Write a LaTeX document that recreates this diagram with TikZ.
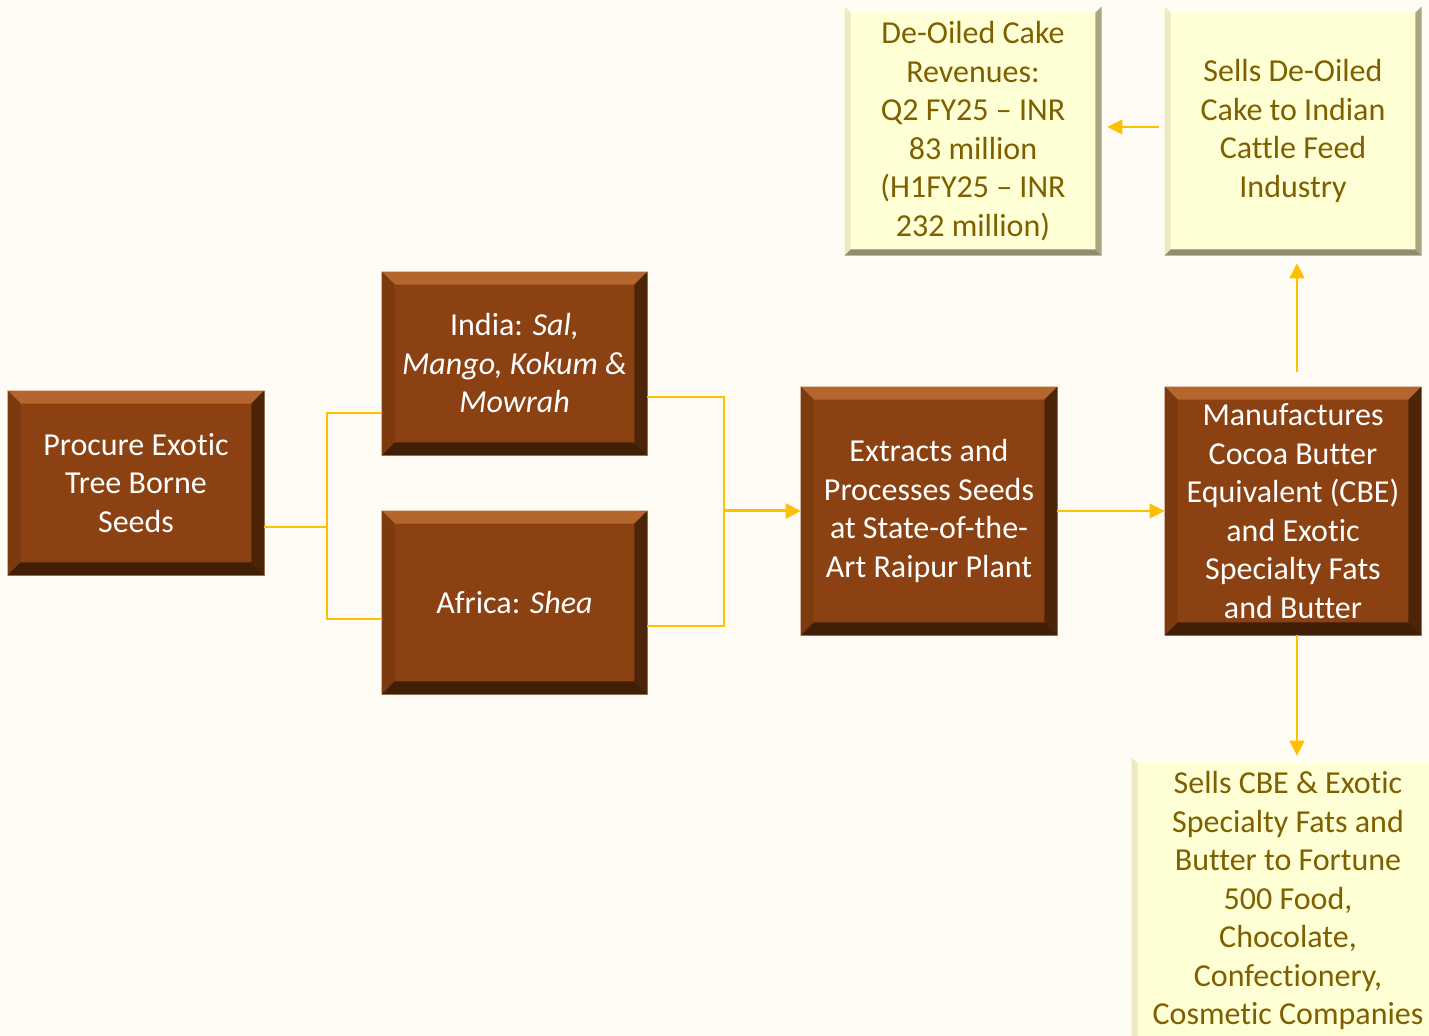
\documentclass[tikz,border=0pt]{standalone}
\usepackage{fontspec}
\setmainfont{Carlito}[Ligatures=NoCommon]
\usetikzlibrary{arrows.meta,calc}

\definecolor{paper}{HTML}{FFFBF5}
\definecolor{cocoa}{HTML}{8B4112}
\definecolor{cocoatop}{HTML}{B5662F}
\definecolor{cocoaleft}{HTML}{7E3A0F}
\definecolor{cocoadark}{HTML}{4C2408}
\definecolor{cream}{HTML}{FFFFD5}
\definecolor{creamtop}{HTML}{FFFFF0}
\definecolor{creamleft}{HTML}{EEE9C2}
\definecolor{creamdark}{HTML}{ABA581}
\definecolor{olive}{HTML}{7F6000}
\definecolor{gold}{HTML}{FFC000}

% bevel: node, width, top, left, right/bottom
\newcommand\bevel[5]{
    \fill[#3] (#1.north west) -- (#1.north east) -- ($(#1.north east)+(-#2,#2)$) -- ($(#1.north west)+(#2,#2)$) -- cycle;
    \fill[#4] (#1.north west) -- (#1.south west) -- ($(#1.south west)+(#2,-#2)$) -- ($(#1.north west)+(#2,#2)$) -- cycle;
    \fill[#5] (#1.north east) -- (#1.south east) -- ($(#1.south east)+(-#2,-#2)$) -- ($(#1.north east)+(-#2,#2)$) -- cycle;
    \fill[#5!85!black] (#1.south west) -- (#1.south east) -- ($(#1.south east)+(-#2,-#2)$) -- ($(#1.south west)+(#2,-#2)$) -- cycle;
}

\begin{document}
\begin{tikzpicture}[x=0.5pt,y=-0.5pt,
    box/.style={inner sep=0pt, align=center, font=\fontsize{16}{19.25}\selectfont},
    brownbox/.style={box, fill=cocoa, text=white, draw=cocoa!55!white, line width=0.4pt},
    creambox/.style={box, fill=cream, text=olive, draw=creamdark!50!white, line width=0.4pt},
    link/.style={draw=gold, line width=0.75pt},
    tip/.style={-{Triangle[length=7.5pt,width=7.5pt]}}]
    \path[clip] (0,0) rectangle (1429,1036);
    \fill[paper] (0,0) rectangle (1429,1036);

    \node[brownbox, minimum width=128pt, minimum height=92pt] (procure) at (136,483)
        {Procure Exotic\\Tree Borne\\Seeds};
    \node[brownbox, minimum width=132.5pt, minimum height=91.5pt] (india) at (514.5,363.5)
        {India: \textit{Sal,}\\\textit{Mango, Kokum \&}\\\textit{Mowrah}};
    \node[brownbox, minimum width=132.5pt, minimum height=91.5pt] (africa) at (514.5,602.5)
        {Africa: \textit{Shea}};
    \node[brownbox, minimum width=128pt, minimum height=124pt] (extract) at (929,511)
        {Extracts and\\Processes Seeds\\at State-of-the-\\Art Raipur Plant};
    \node[brownbox, minimum width=128pt, minimum height=124pt] (manufacture) at (1293,511)
        {Manufactures\\Cocoa Butter\\Equivalent (CBE)\\and Exotic\\Specialty Fats\\and Butter};
    \node[creambox, minimum width=128pt, minimum height=124pt] (revenue) at (973,131)
        {De-Oiled Cake\\Revenues:\\Q2 FY25 – INR\\83 million\\(H1FY25 – INR\\232 million)};
    \node[creambox, minimum width=128pt, minimum height=124pt] (cattle) at (1293,131)
        {Sells De-Oiled\\Cake to Indian\\Cattle Feed\\Industry};
    \node[creambox, minimum width=156pt, minimum height=142.5pt] (companies) at (1288,900.5)
        {Sells CBE \& Exotic\\Specialty Fats and\\Butter to Fortune\\500 Food,\\Chocolate,\\Confectionery,\\Cosmetic Companies};

    \foreach \n in {procure,india,africa,extract,manufacture}
        {\bevel{\n}{13}{cocoatop}{cocoaleft}{cocoadark}}
    \foreach \n in {revenue,cattle,companies}
        {\bevel{\n}{6}{creamtop}{creamleft}{creamdark}}

    % connectors
    \coordinate (split) at (327,527);
    \coordinate (merge) at (724,511);
    \draw[link] ([yshift=-22pt]procure.east) -- (split);
    \draw[link] (split) |- ([yshift=-24.75pt]india.west);
    \draw[link] (split) |- ([yshift=-8.25pt]africa.west);
    \draw[link] ([yshift=-16.75pt]india.east) -| (merge);
    \draw[link] ([yshift=-11.75pt]africa.east) -| (merge);
    \draw[link, tip, line width=1.5pt] (merge) -- (extract.west);
    \draw[link, tip] (extract.east) -- (manufacture.west);
    \draw[link, tip, shorten <=7.5pt, shorten >=4pt] ([xshift=2pt]manufacture.north) -- ([xshift=2pt]cattle.south);
    \draw[link, tip, shorten <=3pt, shorten >=3pt] ([yshift=2pt]cattle.west) -- ([yshift=2pt]revenue.east);
    \draw[link, tip, shorten >=1pt] ([xshift=2pt]manufacture.south) -- ([xshift=2pt]manufacture.south |- companies.north);
\end{tikzpicture}
\end{document}
